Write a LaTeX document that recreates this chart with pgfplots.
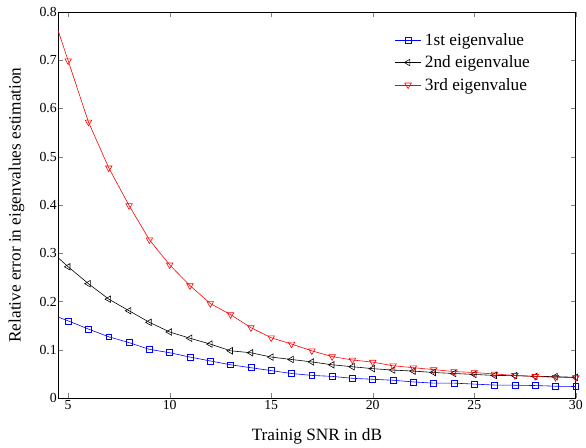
\documentclass[border=0pt]{standalone}
\usepackage{fontspec}
\setmainfont{Liberation Serif}
\usepackage{pgfplots}
\pgfplotsset{compat=1.18}

\begin{document}
\begin{tikzpicture}
\begin{axis}[
    scale only axis,
    width=523bp, height=390bp,
    xmin=4.5, xmax=30, ymin=0, ymax=0.8,
    xtick={5,10,15,20,25,30},
    ytick={0,0.1,0.2,0.3,0.4,0.5,0.6,0.7,0.8},
    /pgf/number format/assume math mode=true,
    xticklabel={\pgfmathprintnumber{\tick}},
    yticklabel={\pgfmathprintnumber[fixed,precision=1]{\tick}},
    yticklabel style={inner xsep=1pt},
    xticklabel style={inner ysep=2pt},
    ticklabel style={font=\fontsize{14}{16}\selectfont},
    label style={font=\fontsize{17.5}{20}\selectfont},
    xlabel={Trainig SNR in dB},
    ylabel={Relative error in eigenvalues estimation},
    xlabel style={at={(rel axis cs:0.5,-0.1)}, anchor=center},
    ylabel style={at={(rel axis cs:-0.08,0.5)}, anchor=center},
    axis line style={line width=0.8pt},
    major tick length=5bp,
    every axis plot/.append style={line width=0.6pt, mark indices={2,...,27}},
    legend image code/.code={
        \draw[mark indices={2}] plot coordinates {(0cm,0cm) (0.45cm,0cm) (0.9cm,0cm)};},
    legend style={at={(rel axis cs:0.645,0.955)}, anchor=north west, draw=none, fill=none,
        font=\fontsize{17.5}{20}\selectfont, row sep=5pt,
        nodes={inner xsep=4pt}},
    legend cell align=left,
    clip=false,
]
\addplot[blue, mark=square, mark size=3pt, mark options={solid}] coordinates {
(4.5,0.168)(5,0.160)(6,0.143)(7,0.127)(8,0.115)(9,0.101)(10,0.094)(11,0.085)
(12,0.077)(13,0.069)(14,0.063)(15,0.057)(16,0.051)(17,0.047)(18,0.045)(19,0.041)
(20,0.039)(21,0.037)(22,0.0335)(23,0.031)(24,0.031)(25,0.029)(26,0.027)(27,0.0267)
(28,0.026)(29,0.0246)(30,0.024)};
\addlegendentry{1st eigenvalue}
\addplot[black, mark=triangle, mark size=3.8pt, mark options={rotate=90}] coordinates {
(4.5,0.291)(5,0.272)(6,0.237)(7,0.205)(8,0.181)(9,0.157)(10,0.137)(11,0.124)
(12,0.112)(13,0.098)(14,0.094)(15,0.085)(16,0.080)(17,0.075)(18,0.069)(19,0.065)
(20,0.061)(21,0.058)(22,0.056)(23,0.053)(24,0.051)(25,0.049)(26,0.047)(27,0.0465)
(28,0.045)(29,0.0445)(30,0.043)};
\addlegendentry{2nd eigenvalue}
\addplot[red, mark=triangle, mark size=3.8pt, mark options={rotate=180}] coordinates {
(4.5,0.762)(5,0.699)(6,0.572)(7,0.477)(8,0.399)(9,0.328)(10,0.276)(11,0.233)
(12,0.196)(13,0.173)(14,0.146)(15,0.125)(16,0.112)(17,0.098)(18,0.086)(19,0.079)
(20,0.0745)(21,0.067)(22,0.063)(23,0.059)(24,0.055)(25,0.053)(26,0.050)(27,0.047)
(28,0.045)(29,0.043)(30,0.0425)};
\addlegendentry{3rd eigenvalue}
% invisible frame giving the reference's margins
\path (rel axis cs:-0.112,-0.123) rectangle (rel axis cs:1.0,1.031);
\end{axis}
\end{tikzpicture}
\end{document}
